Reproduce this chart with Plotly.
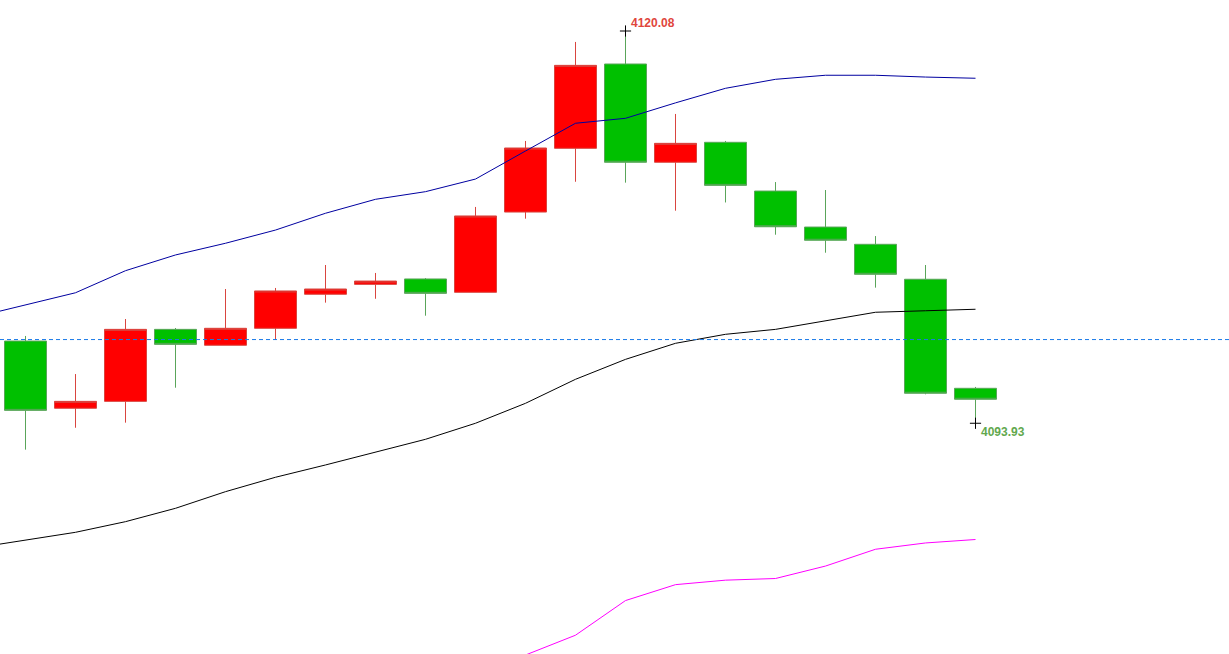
import plotly.graph_objects as go

# ---- data ----
idx = list(range(20))
opens  = [4099.41, 4094.93, 4095.39, 4100.19, 4099.13, 4100.26, 4102.53, 4103.19, 4103.55, 4102.66,
          4108.01, 4112.26, 4117.88, 4111.33, 4112.66, 4109.41, 4107.01, 4105.86, 4103.53, 4096.26]
highs  = [4099.75, 4097.21, 4100.88, 4100.28, 4102.88, 4102.95, 4104.48, 4103.95, 4103.61, 4108.35,
          4112.75, 4119.35, 4120.08, 4114.55, 4112.75, 4110.01, 4109.48, 4106.41, 4104.48, 4096.35]
lows   = [4092.17, 4093.63, 4093.97, 4096.30, 4099.13, 4099.48, 4101.97, 4102.23, 4101.10, 4102.66,
          4107.57, 4110.03, 4109.97, 4108.10, 4108.65, 4106.50, 4105.30, 4102.97, 4095.86, 4093.93]
closes = [4094.79, 4095.39, 4100.19, 4099.19, 4100.26, 4102.75, 4102.88, 4103.41, 4102.59, 4107.75,
          4112.28, 4117.79, 4111.33, 4112.59, 4109.79, 4107.03, 4106.13, 4103.86, 4095.93, 4095.53]

band_x = list(range(-1, 20))
upper  = [4101.01, 4101.82, 4102.63, 4104.10, 4105.15, 4105.93, 4106.81, 4107.93, 4108.86, 4109.37, 4110.21,
          4112.08, 4113.93, 4114.26, 4115.29, 4116.26, 4116.86, 4117.13, 4117.13, 4117.01, 4116.93]
middle = [4085.62, 4086.14, 4086.66, 4087.37, 4088.26, 4089.37, 4090.33, 4091.15, 4092.03, 4092.86, 4093.93,
          4095.26, 4096.86, 4098.19, 4099.26, 4099.86, 4100.19, 4100.75, 4101.33, 4101.43, 4101.53]
lower_x = list(range(9, 20))
lower  = [4077.64, 4078.48, 4079.80, 4082.11, 4083.17, 4083.47, 4083.58, 4084.41, 4085.53, 4085.95, 4086.18]

ref_price = 4099.51
hi_idx, hi_label = 12, "4120.08"
lo_idx, lo_label = 19, "4093.93"

# ---- figure ----
fig = go.Figure()

fig.add_trace(go.Scatter(x=band_x, y=upper, mode="lines",
                         line=dict(color="#0000a0", width=1), hoverinfo="skip", showlegend=False))
fig.add_trace(go.Scatter(x=band_x, y=middle, mode="lines",
                         line=dict(color="#000000", width=1), hoverinfo="skip", showlegend=False))
fig.add_trace(go.Scatter(x=lower_x, y=lower, mode="lines",
                         line=dict(color="#ff00ff", width=1), hoverinfo="skip", showlegend=False))

fig.add_trace(go.Candlestick(
    x=idx, open=opens, high=highs, low=lows, close=closes,
    increasing=dict(fillcolor="#ff0000", line=dict(color="#d9453f", width=1)),
    decreasing=dict(fillcolor="#00c000", line=dict(color="#5aa55a", width=1)),
    whiskerwidth=0, showlegend=False))

fig.add_shape(type="line", xref="paper", x0=0, x1=1, yref="y", y0=ref_price, y1=ref_price,
              line=dict(color="#1a7ae8", width=1, dash="4px,3px"))

fig.add_trace(go.Scatter(x=[hi_idx, lo_idx], y=[highs[hi_idx], lows[lo_idx]], mode="markers",
                         marker=dict(symbol="cross-thin", size=8, line=dict(color="#000000", width=1)),
                         hoverinfo="skip", showlegend=False))

fig.add_annotation(x=hi_idx, y=highs[hi_idx], text=hi_label, showarrow=False,
                   xanchor="left", yanchor="bottom", xshift=3, yshift=-1,
                   font=dict(family="Liberation Sans, Arial", size=12, color="#e0463c", weight="bold"))
fig.add_annotation(x=lo_idx, y=lows[lo_idx], text=lo_label, showarrow=False,
                   xanchor="left", yanchor="top", xshift=3, yshift=0,
                   font=dict(family="Liberation Sans, Arial", size=12, color="#62a84e", weight="bold"))

fig.update_layout(
    width=1229, height=654,
    margin=dict(l=0, r=0, t=0, b=0),
    paper_bgcolor="white", plot_bgcolor="white",
    boxgap=0.16, boxgroupgap=0,
    showlegend=False,
    xaxis=dict(range=[-0.51, 24.07], visible=False, rangeslider=dict(visible=False)),
    yaxis=dict(range=[4078.547, 4122.147], visible=False),
)

fig.write_html("out.html", config={"displayModeBar": False},
               post_script="document.body.style.margin='0';document.body.style.overflow='hidden';")
